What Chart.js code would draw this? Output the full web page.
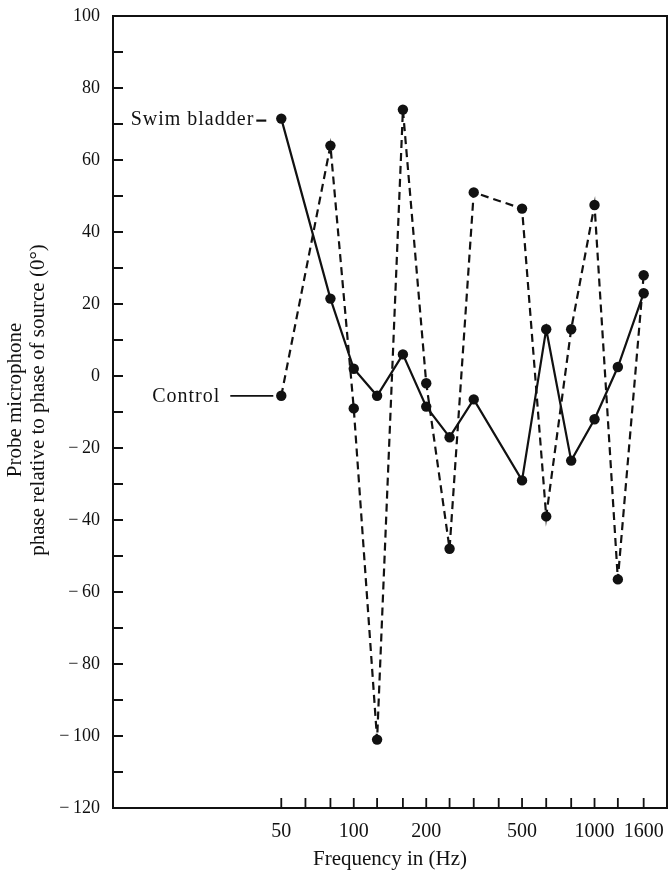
<!DOCTYPE html>
<html>
<head>
<meta charset="utf-8">
<script src="https://cdn.jsdelivr.net/npm/chart.js@4.4.1/dist/chart.umd.min.js"></script>
<style>
  html, body { margin: 0; padding: 0; background: #fff; }
  #wrap { width: 669px; height: 872px; }
</style>
</head>
<body>
<div id="wrap"><canvas id="phaseChart"></canvas></div>
<script>
'use strict';

// Datos
const frecuencias = [50, 80, 100, 125, 160, 200, 250, 315, 500, 630, 800, 1000, 1250, 1600];
const vejigaNatatoria = [71.5, 21.5, 2, -5.5, 6, -8.5, -17, -6.5, -29, 13, -23.5, -12, 2.5, 23];
const control = [-5.5, 64, -9, -101, 74, -2, -48, 51, 46.5, -39, 13, 47.5, -56.5, 28];

// Ejes
const ticksTercioOctava = [50, 63, 80, 100, 125, 160, 200, 250, 315, 400, 500, 630, 800, 1000, 1250, 1600];
const ticksConEtiqueta = [50, 100, 200, 500, 1000, 1600];
const yMin = -120, yMax = 100, yPaso = 10;
const tituloY = ['Probe microphone', 'phase relative to phase of source (0°)'];

const TINTA = '#111';
const FUENTE = "'Liberation Serif', 'Times New Roman', serif";

const puntos = (ys) => frecuencias.map((f, i) => ({ x: f, y: ys[i] }));

// Marco, ticks hacia adentro, título del eje Y y rótulos de las curvas
const decoracion = {
  id: 'decoracion',
  beforeDatasetsDraw(chart) {
    const { ctx, chartArea: a, scales } = chart;
    ctx.save();
    ctx.strokeStyle = TINTA;
    ctx.lineWidth = 2;
    ctx.strokeRect(a.left, a.top, a.right - a.left, a.bottom - a.top);
    ctx.lineWidth = 1.8;
    ctx.beginPath();
    scales.y.ticks.forEach(t => {
      const y = scales.y.getPixelForValue(t.value);
      ctx.moveTo(a.left, y);
      ctx.lineTo(a.left + 10, y);
    });
    ticksTercioOctava.forEach(f => {
      const x = scales.x.getPixelForValue(f);
      ctx.moveTo(x, a.bottom);
      ctx.lineTo(x, a.bottom - 10);
    });
    ctx.stroke();

    // título vertical, algo por encima del centro como en el original
    const yc = (a.top + a.bottom) / 2 - 12;
    ctx.translate(0, yc);
    ctx.rotate(-Math.PI / 2);
    ctx.fillStyle = TINTA;
    ctx.font = `21px ${FUENTE}`;
    ctx.textAlign = 'center';
    ctx.textBaseline = 'middle';
    ctx.fillText(tituloY[0], 0, 15);
    ctx.fillText(tituloY[1], 0, 38);
    ctx.restore();
  },
  afterDatasetsDraw(chart) {
    const { ctx } = chart;
    const p0 = chart.getDatasetMeta(0).data[0];
    const p1 = chart.getDatasetMeta(1).data[0];
    ctx.save();
    ctx.fillStyle = TINTA;
    ctx.strokeStyle = TINTA;
    ctx.font = `20px ${FUENTE}`;
    ctx.letterSpacing = '1px';
    ctx.textAlign = 'right';
    ctx.textBaseline = 'middle';

    ctx.fillText('Swim bladder', p0.x - 27, p0.y + 1);
    ctx.lineWidth = 2.2;
    ctx.beginPath();
    ctx.moveTo(p0.x - 25, p0.y + 2);
    ctx.lineTo(p0.x - 15, p0.y + 2);
    ctx.stroke();

    ctx.fillText('Control', p1.x - 61, p1.y + 1);
    ctx.lineWidth = 1.8;
    ctx.beginPath();
    ctx.moveTo(p1.x - 51, p1.y);
    ctx.lineTo(p1.x - 8, p1.y);
    ctx.stroke();
    ctx.restore();
  }
};

new Chart(document.getElementById('phaseChart'), {
  type: 'line',
  data: {
    datasets: [{
      label: 'Swim bladder',
      data: puntos(vejigaNatatoria),
      borderColor: TINTA,
      backgroundColor: TINTA,
      borderWidth: 2.2,
      pointRadius: 5.2,
      pointBackgroundColor: TINTA,
      pointBorderWidth: 0,
      tension: 0
    },
    {
      label: 'Control',
      data: puntos(control),
      borderColor: TINTA,
      backgroundColor: TINTA,
      borderWidth: 2.2,
      borderDash: [8, 5],
      pointRadius: 5.2,
      pointBackgroundColor: TINTA,
      pointBorderWidth: 0,
      tension: 0
    }]
  },
  plugins: [decoracion],
  options: {
    responsive: true,
    maintainAspectRatio: false,
    animation: false,
    layout: { autoPadding: false, padding: { top: 16, right: 2, bottom: 0, left: 0 } },
    plugins: {
      legend: { display: false },
      tooltip: { enabled: false }
    },
    scales: {
      x: {
        type: 'logarithmic',
        min: 10,
        max: 2000,
        afterBuildTicks: (scale) => {
          scale.ticks = ticksTercioOctava.map(v => ({ value: v }));
        },
        afterFit: (scale) => {
          scale.height = 64;
          scale.paddingLeft = 0;
          scale.paddingRight = 0;
        },
        grid: { display: false, drawTicks: false },
        border: { display: false },
        ticks: {
          autoSkip: false,
          maxRotation: 0,
          padding: 12,
          color: TINTA,
          font: { family: FUENTE, size: 20 },
          callback: (v) => ticksConEtiqueta.includes(v) ? String(v) : ''
        },
        title: {
          display: true,
          text: 'Frequency in (Hz)',
          color: TINTA,
          font: { family: FUENTE, size: 21 },
          padding: { top: 2, bottom: 0 }
        }
      },
      y: {
        min: yMin,
        max: yMax,
        afterFit: (scale) => {
          scale.width = 113;
          scale.paddingTop = 0;
          scale.paddingBottom = 0;
        },
        grid: { display: false, drawTicks: false },
        border: { display: false },
        ticks: {
          stepSize: yPaso,
          padding: 13,
          color: TINTA,
          font: { family: FUENTE, size: 18 },
          callback: (v) => {
            if (v % 20 !== 0) return '';
            return v < 0 ? '\u2212\u2009' + Math.abs(v) : String(v);
          }
        },
        title: { display: false }
      }
    }
  }
});
</script>
</body>
</html>
